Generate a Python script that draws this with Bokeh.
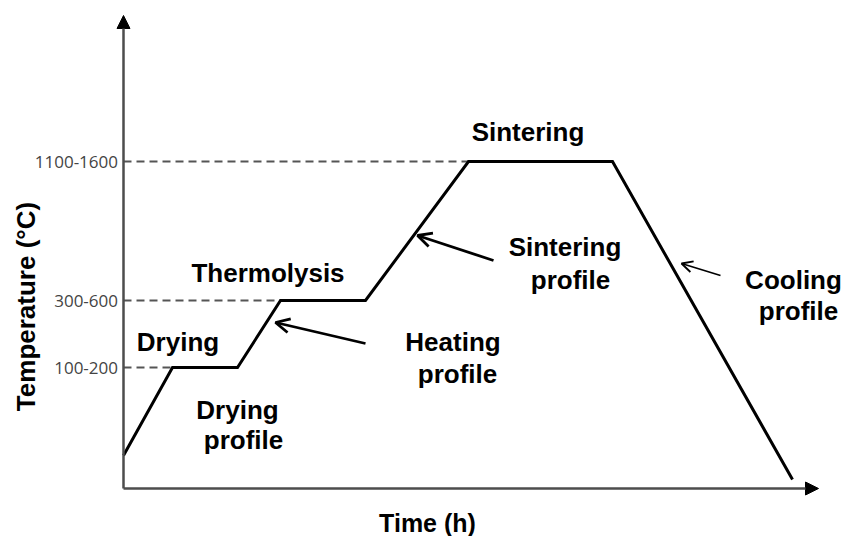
import math
from bokeh.plotting import figure
from bokeh.models import Range1d, Arrow, OpenHead, NormalHead
from bokeh.core.properties import value
from bokeh.embed import file_html
from bokeh.resources import INLINE

# ---- data (schematic units: 1 unit = 10 px) ----
time_h = [0, 4.9, 11.4, 15.7, 24.2, 34.5, 48.9, 66.9]
temp_level = [3.3, 12.1, 12.1, 18.8, 18.8, 32.7, 32.7, 0.9]

tick_levels = [12.1, 18.8, 32.7]
tick_labels = ["100-200", "300-600", "1100-1600"]
dash_ends = [4.9, 15.7, 34.5]

stage_labels = ["Drying", "Thermolysis", "Sintering"]
stage_x = [5.45, 14.45, 40.45]
stage_y = [14.65, 21.55, 35.7]

profile_names = ["Drying", "Heating", "Sintering", "Cooling"]
profile_x1 = [11.4, 32.95, 44.15, 67.0]
profile_y1 = [7.85, 14.65, 24.15, 20.9]
profile_x2 = [12.0, 33.4, 44.7, 67.5]
profile_y2 = [4.9, 11.5, 20.9, 17.8]

# pointer arrows: (tail x, tail y, tip x, tip y)
arrow_tail_x = [24.2, 37.0, 59.7]
arrow_tail_y = [14.5, 22.8, 21.3]
arrow_tip_x = [15.2, 29.4, 55.8]
arrow_tip_y = [16.6, 25.3, 22.5]
arrow_width = [2.8, 2.8, 1.8]
arrow_size = [14, 14, 11]

x_axis_end = 69.5
y_axis_end = 47.3

W, H = 845, 536
p = figure(width=W, height=H, output_backend="svg", toolbar_location=None,
           x_range=Range1d(-12.3, 72.2), y_range=Range1d(-4.8, 48.8),
           min_border=0, min_border_left=0, min_border_right=0,
           min_border_top=0, min_border_bottom=0)
p.xaxis.visible = False
p.yaxis.visible = False
p.xgrid.visible = False
p.ygrid.visible = False
p.outline_line_color = None
p.background_fill_color = "white"
p.border_fill_color = "white"

axis_color = "#4d4d4d"
# axes with arrowheads
p.add_layout(Arrow(end=NormalHead(size=13, fill_color="black", line_color="black"),
                   x_start=0, y_start=0, x_end=0, y_end=y_axis_end,
                   line_color=axis_color, line_width=2.5))
p.add_layout(Arrow(end=NormalHead(size=13, fill_color="black", line_color="black"),
                   x_start=0, y_start=0, x_end=x_axis_end, y_end=0,
                   line_color=axis_color, line_width=2.5))

# dashed reference lines
p.segment(x0=[0] * len(tick_levels), y0=tick_levels, x1=dash_ends, y1=tick_levels,
          line_color="#555555", line_width=2, line_dash="8 5")

# tick labels
p.text(x=[-0.55] * len(tick_levels), y=tick_levels, text=tick_labels,
       text_align="right", text_baseline="middle", text_font=value("Open Sans"),
       text_font_size="17px", text_color="#444444")

# profile
p.line(time_h, temp_level, line_color="black", line_width=3, line_join="miter")

bold = dict(text_font=value("Liberation Sans"), text_font_style="bold",
            text_font_size="26px", text_color="black", text_align="center",
            text_baseline="middle")
p.text(x=stage_x, y=stage_y, text=stage_labels, **bold)
p.text(x=profile_x1, y=profile_y1, text=profile_names, **bold)
p.text(x=profile_x2, y=profile_y2, text=["profile"] * len(profile_names), **bold)

# pointer arrows
for i in range(len(arrow_tip_x)):
    p.add_layout(Arrow(end=OpenHead(size=arrow_size[i], line_width=arrow_width[i], line_color="black"),
                       x_start=arrow_tail_x[i], y_start=arrow_tail_y[i],
                       x_end=arrow_tip_x[i], y_end=arrow_tip_y[i],
                       line_color="black", line_width=arrow_width[i]))

# axis titles
p.text(x=[30.4], y=[-3.4], text=["Time (h)"], text_font=value("Liberation Sans"),
       text_font_style="bold", text_font_size="25px", text_align="center",
       text_baseline="middle", text_color="black")
p.text(x=[-9.8], y=[18.2], text=["Temperature (°C)"], angle=math.pi / 2,
       text_font=value("Liberation Sans"), text_font_style="bold",
       text_font_size="26px", text_align="center", text_baseline="middle",
       text_color="black")

open("out.html", "w").write(file_html(p, INLINE))
